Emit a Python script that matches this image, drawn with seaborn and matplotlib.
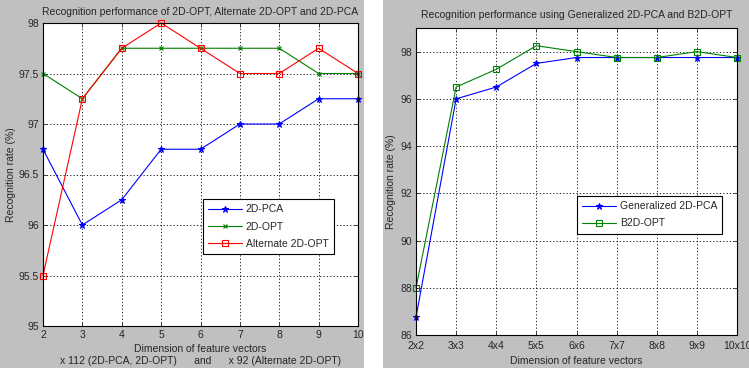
import matplotlib
matplotlib.use("Agg")
import matplotlib.pyplot as plt
import seaborn as sns
import pandas as pd
from matplotlib.patches import Rectangle

# ---- data: left panel ----
dims_left = [2, 3, 4, 5, 6, 7, 8, 9, 10]
pca_2d = [96.75, 96.0, 96.25, 96.75, 96.75, 97.0, 97.0, 97.25, 97.25]
opt_2d = [97.5, 97.25, 97.75, 97.75, 97.75, 97.75, 97.75, 97.5, 97.5]
alt_opt_2d = [95.5, 97.25, 97.75, 98.0, 97.75, 97.5, 97.5, 97.75, 97.5]

# ---- data: right panel ----
dims_right = ["2x2", "3x3", "4x4", "5x5", "6x6", "7x7", "8x8", "9x9", "10x10"]
gen_pca = [86.75, 96.0, 96.5, 97.5, 97.75, 97.75, 97.75, 97.75, 97.75]
b2d_opt = [88.0, 96.5, 97.25, 98.25, 98.0, 97.75, 97.75, 98.0, 97.75]

sns.set_style("white")
plt.rcParams['font.family'] = ['Liberation Sans', 'DejaVu Sans']
plt.rcParams['font.size'] = 7.5

W, H = 749, 368
fig = plt.figure(figsize=(W / 100, H / 100), dpi=100)
fig.patch.set_facecolor("white")
gray = "#c0c0c0"
fig.patches.append(Rectangle((0, 0), 364 / W, 1, transform=fig.transFigure,
                             facecolor=gray, edgecolor="none", zorder=-10))
fig.patches.append(Rectangle((383 / W, 0), (W - 383) / W, 1, transform=fig.transFigure,
                             facecolor=gray, edgecolor="none", zorder=-10))

def ax_rect(x0, x1, ytop, ybot):
    return [x0 / W, 1 - ybot / H, (x1 - x0) / W, (ybot - ytop) / H]

BLUE = (0, 0, 1)
GREEN = (0, 0.5, 0)
RED = (1, 0, 0)

def style_axes(ax):
    ax.set_facecolor("white")
    for s in ax.spines.values():
        s.set_visible(True)
        s.set_color("black")
        s.set_linewidth(0.8)
    ax.grid(True, color="black", linestyle=(0, (1.5, 2.5)), linewidth=0.6)
    ax.tick_params(direction="in", length=3, width=0.6, labelsize=7.5,
                   top=True, right=True, bottom=True, left=True, pad=3)

# ---- left axes ----
ax1 = fig.add_axes(ax_rect(43, 358, 23, 326))
style_axes(ax1)
sns.lineplot(x=dims_left, y=pca_2d, ax=ax1, color=BLUE, marker="*", markersize=5,
             markeredgecolor=BLUE, linewidth=0.8, label="2D-PCA", clip_on=False)
sns.lineplot(x=dims_left, y=opt_2d, ax=ax1, color=GREEN, marker="x", markersize=3,
             markeredgecolor=GREEN, markeredgewidth=0.8, linewidth=0.8, label="2D-OPT",
             clip_on=False)
sns.lineplot(x=dims_left, y=alt_opt_2d, ax=ax1, color=RED, marker="s", markersize=4,
             markerfacecolor="none", markeredgecolor=RED, markeredgewidth=0.8,
             linewidth=0.8, label="Alternate 2D-OPT", clip_on=False)
ax1.set_xlim(2, 10)
ax1.set_ylim(95, 98)
ax1.set_xticks(dims_left)
ax1.set_yticks([95, 95.5, 96, 96.5, 97, 97.5, 98])
ax1.set_yticklabels(["95", "95.5", "96", "96.5", "97", "97.5", "98"])
ax1.set_title("Recognition performance of 2D-OPT, Alternate 2D-OPT and 2D-PCA",
              fontsize=7.5, pad=6)
ax1.set_ylabel("Recognition rate (%)", fontsize=7.5, labelpad=2)
ax1.set_xlabel("Dimension of feature vectors\n"
               "x 112 (2D-PCA, 2D-OPT)      and      x 92 (Alternate 2D-OPT)",
               fontsize=7.5, labelpad=3, linespacing=1.25)
leg1 = ax1.legend(loc="upper left", bbox_to_anchor=((203 - 43) / 315, 1 - (199 - 23) / 303),
                  frameon=True, fancybox=False, edgecolor="black", framealpha=1,
                  fontsize=7.5, handlelength=3.2, borderpad=0.5, labelspacing=0.7,
                  handletextpad=0.4, borderaxespad=0)
leg1.get_frame().set_linewidth(0.8)

# ---- right axes ----
ax2 = fig.add_axes(ax_rect(416, 737, 28, 335))
style_axes(ax2)
sns.lineplot(x=dims_right, y=gen_pca, ax=ax2, color=BLUE, marker="*", markersize=5,
             markeredgecolor=BLUE, linewidth=0.8, label="Generalized 2D-PCA", sort=False,
             clip_on=False)
sns.lineplot(x=dims_right, y=b2d_opt, ax=ax2, color=GREEN, marker="s", markersize=4,
             markerfacecolor="none", markeredgecolor=GREEN, markeredgewidth=0.8,
             linewidth=0.8, label="B2D-OPT", sort=False, clip_on=False)
ax2.set_xlim(0, len(dims_right) - 1)
ax2.set_ylim(86, 99)
ax2.set_yticks([86, 88, 90, 92, 94, 96, 98])
ax2.tick_params(axis="x", pad=4)
ax2.set_title("Recognition performance using Generalized 2D-PCA and B2D-OPT",
              fontsize=7.5, pad=7)
ax2.set_ylabel("Recognition rate (%)", fontsize=7.5, labelpad=3)
ax2.set_xlabel("Dimension of feature vectors", fontsize=7.5, labelpad=4)
leg2 = ax2.legend(loc="upper left", bbox_to_anchor=((577 - 416) / 321, 1 - (196 - 28) / 307),
                  frameon=True, fancybox=False, edgecolor="black", framealpha=1,
                  fontsize=7.5, handlelength=3.2, borderpad=0.5, labelspacing=0.7,
                  handletextpad=0.4, borderaxespad=0)
leg2.get_frame().set_linewidth(0.8)

fig.savefig("out.png", dpi=100, facecolor=fig.get_facecolor())
